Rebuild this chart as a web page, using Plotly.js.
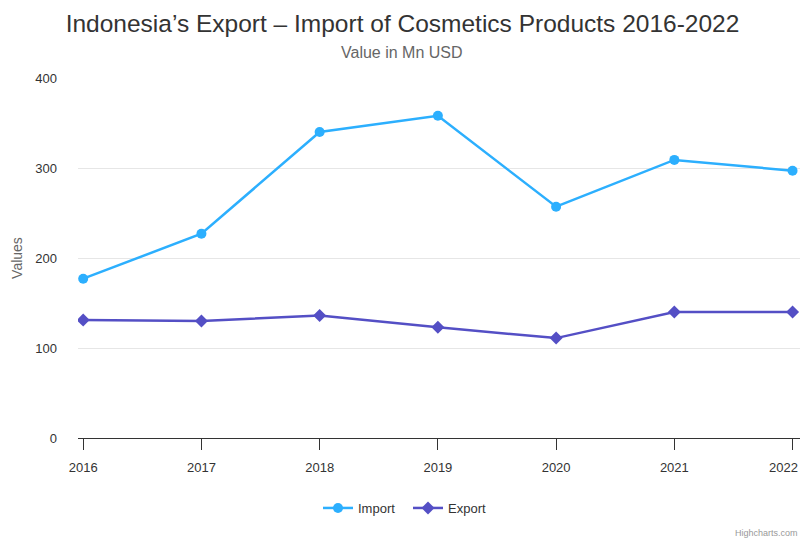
<!DOCTYPE html>
<html>
<head>
<meta charset="utf-8">
<script src="https://cdn.plot.ly/plotly-3.0.1.min.js"></script>
<style>html,body{margin:0;padding:0;background:#fff;}#chart{width:801px;height:542px;}</style>
</head>
<body>
<div id="chart"></div>
<script>
var years = ["2016", "2017", "2018", "2019", "2020", "2021", "2022"];
var importValues = [177, 227, 340, 358, 257, 309, 297];
var exportValues = [131, 130, 136, 123, 111, 140, 140];
var yTicks = [0, 100, 200, 300, 400];

var FONT = "Liberation Sans, Arial, Helvetica, sans-serif";

var traces = [
  {
    x: years, y: importValues, name: "Import", type: "scatter", mode: "lines+markers",
    line: {color: "#2caffe", width: 2.5},
    marker: {symbol: "circle", size: 10, color: "#2caffe"}
  },
  {
    x: years, y: exportValues, name: "Export", type: "scatter", mode: "lines+markers",
    line: {color: "#544fc5", width: 2.5},
    marker: {symbol: "diamond", size: 10, color: "#544fc5"}
  }
];

// last category label is drawn as an annotation so it stays inside the page (as Highcharts does)
var tickText = years.map(function (y, i) { return i === years.length - 1 ? "" : y; });

var PL = 78, PW = 722, PT = 78, PH = 360;

var layout = {
  width: 801, height: 542,
  margin: {l: PL, r: 1, t: PT, b: 104},
  paper_bgcolor: "#fff", plot_bgcolor: "#fff",
  font: {family: FONT, color: "#333"},
  title: {
    text: "Indonesia’s Export – Import of Cosmetics Products 2016-2022",
    font: {family: FONT, size: 24.5, color: "#333"},
    x: 402.5/801, xref: "container", xanchor: "center",
    y: 1 - 23/542, yref: "container", yanchor: "middle"
  },
  xaxis: {
    type: "category",
    range: [-0.044, 6.063],
    tickvals: years, ticktext: tickText,
    showgrid: false, zeroline: false,
    showline: true, linecolor: "#333", linewidth: 1,
    ticks: "outside", ticklen: 11, tickcolor: "#333", tickwidth: 1,
    ticklabelstandoff: 6,
    tickfont: {family: FONT, size: 13, color: "#333"},
    fixedrange: true
  },
  yaxis: {
    range: [0, 400],
    tickvals: yTicks, ticktext: yTicks.map(String),
    showgrid: true, gridcolor: "#e6e6e6", gridwidth: 1,
    zeroline: false, showline: false,
    ticks: "", ticklabelstandoff: 20,
    tickfont: {family: FONT, size: 13, color: "#333"},
    title: {text: "Values", font: {family: FONT, size: 14, color: "#666"}, standoff: 9},
    fixedrange: true
  },
  showlegend: true,
  legend: {
    orientation: "h",
    x: 318/801, xref: "container", xanchor: "left",
    y: 1 - 508/542, yref: "container", yanchor: "middle",
    font: {family: FONT, size: 13, color: "#333"},
    itemwidth: 30, entrywidth: 45, tracegroupgap: 0
  },
  annotations: [
    {text: "Value in Mn USD", xref: "paper", yref: "paper", x: (401.5 - PL)/PW, y: 1 + (PT - 52.5)/PH,
     xanchor: "center", yanchor: "middle", showarrow: false,
     font: {family: FONT, size: 16, color: "#666"}},
    {text: years[years.length - 1], xref: "paper", yref: "paper", x: 1, y: -(467 - 438)/PH,
     xanchor: "right", yanchor: "middle", showarrow: false,
     font: {family: FONT, size: 13, color: "#333"}},
    {text: "Highcharts.com", xref: "paper", yref: "paper", x: 1, y: -(533 - 438)/PH,
     xanchor: "right", yanchor: "middle", showarrow: false,
     font: {family: FONT, size: 9, color: "#999"}}
  ]
};

Plotly.newPlot("chart", traces, layout, {displayModeBar: false, staticPlot: true});
</script>
</body>
</html>
